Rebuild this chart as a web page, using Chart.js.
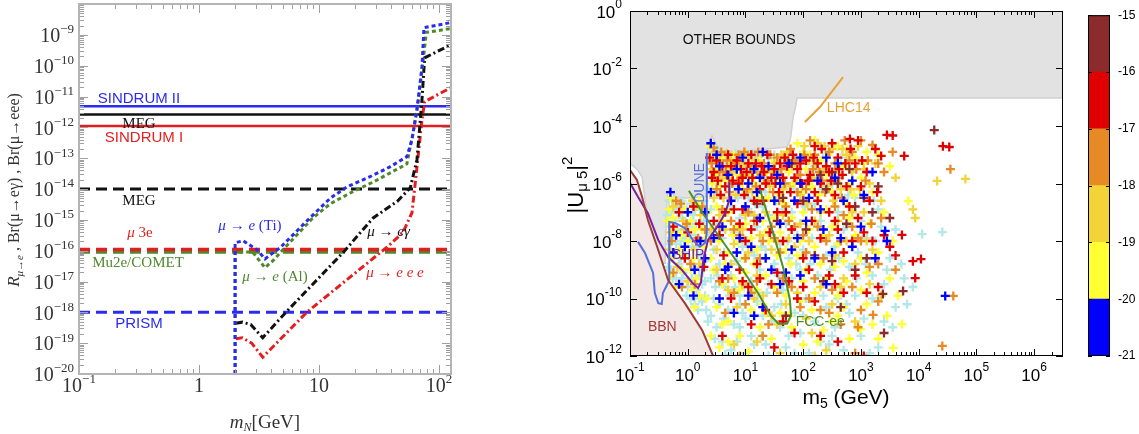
<!DOCTYPE html>
<html>
<head>
<meta charset="utf-8">
<script src="https://cdn.jsdelivr.net/npm/chart.js@4.4.1/dist/chart.umd.min.js"></script>
<style>
  body { margin: 0; background: #fff; width: 1139px; height: 434px; overflow: hidden; position: relative; }
  canvas { position: absolute; top: 0; }
  #lfv { left: 0; width: 470px; height: 434px; }
  #hnl { left: 540px; width: 540px; height: 434px; }
  #cbar { left: 1080px; width: 59px; height: 434px; }
</style>
</head>
<body>
<canvas id="lfv" width="470" height="434"></canvas>
<canvas id="hnl" width="540" height="434"></canvas>
<canvas id="cbar" width="59" height="434"></canvas>
<script>
// ---------------- left panel: cLFV rates vs m_N ----------------
var leftXTicks = [0.1, 1, 10, 100];
var leftYTicks = [1e-9, 1e-10, 1e-11, 1e-12, 1e-13, 1e-14, 1e-15, 1e-16, 1e-17, 1e-18, 1e-19, 1e-20];

var limitNames  = ['SINDRUM II', 'MEG', 'SINDRUM I', 'MEG future', 'Mu3e', 'Mu2e/COMET', 'PRISM'];
var limitValues = [4.8e-12, 2.6e-12, 1.1e-12, 1.0e-14, 1.1e-16, 9.0e-17, 1.0e-18];

var tiMass  = [2.0, 2.0, 2.33, 3.04, 3.55, 4.14, 4.73, 8.1, 12.4, 17.1, 26.6, 39, 54, 59.6, 65.6, 72.2, 75, 126];
var tiRate  = [1e-20, 1.8e-16, 2.1e-16, 1.07e-16, 5.4e-17, 8.5e-17, 1.23e-16, 1.0e-15, 5.0e-15, 1.17e-14, 2.5e-14, 5.2e-14, 1.12e-13, 4e-13, 3.7e-12, 9.3e-11, 1.7e-9, 2.5e-9];
var alMass  = [2.0, 2.0, 2.8, 3.55, 4.2, 5.0, 8.9, 12.4, 18.3, 28.5, 54, 60.8, 67.4, 74, 78.5, 126];
var alRate  = [1e-20, 9e-17, 9e-17, 2.8e-17, 5e-17, 1.07e-16, 1.15e-15, 3.3e-15, 7.5e-15, 1.7e-14, 6.5e-14, 6.6e-13, 7.9e-12, 1.6e-10, 1.2e-9, 1.6e-9];
var egMass  = [2.03, 2.3, 2.7, 3.4, 5.3, 15.8, 28.3, 45, 57.7, 65.6, 72.2, 76, 126];
var egRate  = [4.4e-19, 4.8e-19, 4e-19, 1.5e-19, 1e-18, 8.5e-17, 1.15e-15, 4e-15, 1.1e-14, 8.9e-14, 8e-12, 1.8e-10, 4.8e-10];
var eeeMass = [2.03, 2.3, 2.75, 3.4, 7.9, 36.9, 50, 59.6, 65.6, 72.2, 76, 126];
var eeeRate = [1.4e-19, 1.5e-19, 1e-19, 3.5e-20, 1e-18, 1.3e-16, 3.8e-16, 1.7e-15, 5.2e-14, 1.8e-12, 6.8e-12, 1.95e-11];

// ---------------- right panel: |U_mu5|^2 vs m5 (log10 values) ----------------
var rightXTicks = [0.1, 1, 10, 100, 1e3, 1e4, 1e5, 1e6];
var rightYTicks = [1, 1e-2, 1e-4, 1e-6, 1e-8, 1e-10, 1e-12];
var cbarEdges = [-21, -20, -19, -18, -17, -16, -15];

var otherBounds = [[-1,0],[6.5,0],[6.5,-3.03],[1.894,-3.03],[1.86,-3.4],[1.825,-3.69],[1.79,-4.3],[1.773,-4.49],[1.72,-4.73],[1.25,-4.83],[0.854,-4.9],[0.6,-4.85],[0.508,-4.73],[0.421,-4.35],[0.37,-4.55],[0.34,-5.0],[0.334,-6.45],[0.0,-6.5],[-0.22,-6.5],[-0.307,-6.16],[-0.35,-6.4],[-0.37,-7.0],[-0.39,-8.77],[-0.51,-8.77],[-0.58,-8.3],[-0.65,-7.72],[-0.74,-6.57],[-0.79,-5.77],[-0.88,-5.5],[-1,-5.3]];
var bbnLine  = [[-1,-5.53],[-0.88,-5.88],[-0.79,-6.47],[-0.69,-7.27],[-0.53,-8.2],[-0.34,-9.36],[-0.05,-10.16],[0.25,-11.1],[0.44,-12]];
var duneLine = [[-0.86,-8.03],[-0.74,-8.42],[-0.6,-9.11],[-0.57,-9.81],[-0.51,-10.16],[-0.45,-10.19],[-0.43,-9.81],[-0.36,-9.53],[-0.32,-9.36],[-0.32,-7.34],[-0.22,-7.37],[-0.05,-7.55],[0.09,-7.97],[0.21,-8.2],[0.3,-8.07],[0.33,-7.72],[0.33,-4.94]];
var shipLine = [[-1,-5.98],[-0.86,-6.47],[-0.69,-7.03],[-0.51,-7.97],[-0.34,-8.56],[-0.1,-9.01],[0.07,-9.43],[0.18,-9.64],[0.23,-9.43],[0.27,-8.66],[0.35,-7.97],[0.51,-7.51],[0.65,-7.03],[0.72,-6.57],[0.72,-5.95]];
var fccLine  = [[0.02,-6.25],[0.25,-7.0],[0.6,-8.0],[0.95,-9.0],[1.23,-9.85],[1.44,-10.6],[1.57,-10.88],[1.72,-10.88],[1.79,-10.6],[1.77,-10.05],[1.65,-8.9],[1.48,-7.72],[1.25,-6.2]];
var lhcLine  = [[2.03,-3.86],[2.29,-3.34],[2.69,-2.3]];

// scan points, grouped by colour band of the bar (log10 m5, log10 |U|^2)
var ptsLow = [[-0.33,-6.6],[-0.3,-7.0],[-0.32,-7.5],[-0.28,-7.9],[-0.3,-8.3],[-0.25,-8.6],[-0.3,-9.0],[-0.2,-9.3],[-0.15,-6.8],[-0.1,-7.2],[-0.18,-7.6],[-0.12,-8.0],[-0.05,-8.4],[-0.15,-8.8],[-0.08,-9.1],[0.0,-9.6],[0.05,-6.7],[0.1,-7.1],[0.02,-7.5],[0.12,-7.8],[0.18,-8.5],[0.1,-8.9],[0.2,-9.2],[0.15,-9.7],[0.25,-10.1],[0.22,-6.9],[0.28,-7.3],[0.3,-8.7],[0.25,-9.5],[-0.22,-7.3],[-0.05,-7.9],[0.08,-8.2],[-0.2,-8.1],[0.05,-10.0],[0.18,-10.4],
  [0.4,-5.2],[0.45,-5.9],[0.55,-6.4],[0.4,-6.9],[0.5,-7.4],[0.6,-7.9],[0.45,-8.3],[0.55,-8.8],[0.4,-9.3],[0.65,-9.6],[0.7,-5.5],[0.8,-6.1],[0.75,-6.8],[0.9,-7.2],[0.8,-7.7],[0.95,-8.2],[0.85,-8.7],[0.75,-9.2],[0.9,-9.9],[1.0,-5.3],[1.05,-6.5],[1.1,-7.0],[1.2,-7.5],[1.05,-8.0],[1.15,-8.5],[1.25,-9.0],[1.1,-9.4],[1.3,-5.8],[1.35,-6.3],[1.4,-7.1],[1.45,-7.8],[1.35,-8.3],[1.5,-8.8],[1.4,-9.5],[1.6,-5.5],[1.65,-6.9],[1.7,-7.4],[1.6,-8.1],[1.75,-8.6],[1.8,-9.3],[1.85,-6.2],[1.9,-7.8],[2.0,-8.3],[1.95,-9.0],
  [2.1,-5.6],[2.2,-6.7],[2.3,-7.3],[2.15,-7.9],[2.4,-8.5],[2.25,-9.2],[2.5,-6.0],[2.6,-7.0],[2.7,-7.6],[2.55,-8.2],[2.8,-8.9],[2.65,-9.6],[2.9,-6.5],[3.0,-7.3],[3.1,-7.9],[2.95,-8.4],[3.2,-9.2],[3.3,-6.9],[3.35,-7.5],[3.25,-8.0],[3.5,-8.6],[3.4,-9.5],[3.6,-7.6],[3.7,-8.8],[4.06,-7.76],[4.41,-7.69],[3.9,-9.6],[3.6,-10.3],[3.2,-10.0],[2.9,-9.9],
  [0.4,-10.6],[0.5,-11.0],[0.6,-11.5],[0.55,-10.2],[0.7,-10.4],[0.8,-10.9],[0.75,-11.8],[0.9,-10.2],[1.0,-10.7],[1.1,-11.3],[1.0,-11.9],[1.2,-10.1],[1.3,-10.6],[1.35,-11.6],[1.5,-10.3],[1.6,-11.0],[1.7,-11.7],[1.85,-10.5],[1.95,-11.2],[2.05,-10.0],[2.2,-10.8],[2.3,-11.5],[2.4,-10.3],[2.55,-11.0],[2.7,-11.8],[2.8,-10.5],[3.0,-11.3],[3.15,-11.9],[3.4,-10.8],[2.1,-11.9],[1.4,-12.0],[0.65,-11.95],
  [0.5,-4.8],[0.9,-5.0],[1.2,-5.1],[1.5,-5.0],[0.7,-6.0],[1.3,-6.8],[2.0,-5.2],[2.4,-5.0],[1.8,-7.0],[0.35,-6.2],[-0.1,-6.6],[0.3,-9.9],
  [-0.34,-8.9],[-0.26,-9.3],[-0.22,-6.9],[-0.08,-6.8],[0.03,-8.6],[0.14,-7.4],[0.27,-9.0],[0.12,-10.2],[-0.02,-9.9],[0.32,-10.4],
  [0.37,-7.8],[0.48,-9.6],[0.63,-8.4],[0.72,-9.9],[0.87,-6.5],[0.97,-9.6],[1.17,-6.7],[1.27,-8.2],[1.37,-9.8],[1.53,-6.6],[1.57,-9.2],[1.73,-8.0],[1.88,-8.8],[2.03,-6.8],[2.12,-8.8],[2.33,-6.2],[2.47,-9.0],[2.62,-8.6],[2.78,-6.4],[2.92,-9.3],[3.08,-8.8],[3.22,-6.6],[3.45,-9.0],[3.75,-9.3],[2.35,-9.9],[1.62,-10.2],[1.28,-11.3],[0.85,-11.5],[2.75,-10.2],[3.55,-11.0],[0.47,-11.4],[1.85,-11.9],[2.5,-11.3],[0.95,-10.5],
  [0.43,-4.9],[0.62,-5.3],[0.82,-4.95],[1.12,-4.95],[1.4,-5.1],[1.75,-5.0],[2.2,-5.4],[2.65,-5.1],
  [-0.35,-7.1],[-0.33,-8.1],[-0.27,-6.6],[-0.18,-7.0],[-0.22,-8.4],[-0.12,-8.6],[-0.02,-8.0],[-0.1,-9.3],[0.03,-7.9],[0.07,-9.3],[0.17,-8.2],[0.23,-8.5],[0.13,-6.9],[0.28,-6.6],[0.3,-9.4],[0.2,-10.0],[0.35,-10.8],[0.45,-10.0],[0.62,-10.7],[0.9,-11.0],[1.15,-11.6],[1.45,-10.8],[1.75,-11.3],[2.0,-10.6],[2.45,-11.6],[2.6,-10.0],[3.05,-10.7],[3.3,-11.7],[3.8,-10.2],[0.52,-9.2],[0.82,-9.6],[1.2,-9.8],[1.65,-9.7]];
var pts20 = [[-0.3,-6.3],[-0.2,-7.8],[-0.05,-8.2],[0.12,-9.0],[0.1,-9.9],[-0.15,-9.5],[0.3,-7.0],[0.0,-7.0],[0.22,-8.0],
  [0.4,-4.6],[0.4,-6.3],[0.55,-5.4],[0.7,-5.7],[0.75,-6.6],[0.88,-6.2],[0.95,-5.1],[1.05,-6.0],[1.15,-5.5],[1.25,-5.8],[1.3,-4.9],[1.4,-5.4],[1.5,-6.6],[1.6,-6.0],[1.75,-5.3],[1.85,-6.6],[1.95,-5.1],[2.1,-6.5],[2.25,-5.9],[2.4,-5.1],[2.55,-5.8],[2.7,-6.6],[2.85,-5.9],[3.05,-6.4],[3.2,-5.6],
  [0.45,-7.9],[0.6,-7.5],[0.7,-8.9],[0.85,-8.4],[1.0,-6.8],[1.1,-8.2],[1.25,-7.2],[1.35,-8.6],[1.45,-9.0],[1.6,-7.4],[1.7,-9.1],[1.9,-7.9],[2.05,-7.3],[2.2,-8.6],[2.35,-7.6],[2.5,-8.4],[2.65,-7.9],[2.85,-8.2],[3.0,-7.5],[3.42,-7.65],[3.45,-8.0],[3.25,-8.6],[4.46,-9.91],
  [0.55,-10.0],[0.8,-10.5],[1.05,-9.9],[1.3,-10.3],[1.6,-9.5],[1.95,-9.2],[0.65,-9.0],
  [0.5,-5.0],[0.85,-5.5],[1.2,-6.3],[1.55,-5.7],[1.95,-6.0],[2.3,-6.9],[2.6,-5.3],[0.3,-8.6],[-0.25,-8.4],[0.9,-7.9],[1.8,-8.3],[2.4,-9.5],[1.15,-10.6]];
var pts19 = [[-0.3,-6.5],[-0.25,-7.2],[-0.2,-7.7],[-0.15,-8.3],[-0.28,-8.6],[-0.1,-9.0],[-0.05,-6.9],[0.05,-7.3],[0.0,-8.0],[0.1,-8.6],[0.15,-9.3],[0.2,-6.6],[0.25,-7.6],[0.28,-8.2],[0.2,-9.9],[-0.3,-9.2],[0.08,-9.7],
  [0.38,-4.7],[0.45,-5.0],[0.5,-5.5],[0.42,-6.0],[0.6,-5.1],[0.7,-5.4],[0.65,-5.9],[0.8,-5.0],[0.85,-5.7],[0.95,-6.2],[1.0,-4.95],[1.1,-5.5],[1.15,-6.0],[1.25,-5.2],[1.3,-5.9],[1.4,-6.5],[1.45,-5.4],[1.55,-5.9],[1.6,-6.4],[1.7,-5.1],[1.75,-5.6],[1.85,-6.0],[1.9,-4.6],[2.0,-4.9],[2.05,-5.5],[2.15,-6.1],[2.2,-4.5],[2.3,-5.2],[2.4,-5.7],[2.5,-6.3],[2.6,-4.7],[2.7,-5.4],[2.8,-6.0],[2.9,-5.1],[3.0,-5.8],[3.1,-4.9],[3.2,-6.3],[3.82,-6.61],[3.5,-5.4],
  [0.35,-7.0],[0.5,-6.8],[0.6,-7.3],[0.7,-7.0],[0.85,-7.5],[0.55,-8.0],[0.7,-8.4],[0.9,-8.0],[1.0,-7.4],[1.1,-7.9],[1.2,-8.3],[1.3,-7.3],[1.4,-8.0],[1.5,-7.2],[1.6,-7.7],[1.7,-8.3],[1.8,-7.2],[1.9,-8.5],[2.0,-7.0],[2.1,-7.6],[2.2,-8.2],[2.3,-8.8],[2.4,-6.9],[2.5,-7.5],[2.6,-8.1],[2.7,-8.7],[2.8,-7.2],[2.9,-7.8],[3.0,-8.6],[3.1,-9.1],[3.3,-8.4],[3.5,-9.3],[3.55,-8.0],[3.64,-9.9],
  [0.45,-9.0],[0.6,-9.5],[0.8,-9.3],[1.0,-9.1],[1.2,-9.7],[1.35,-9.2],[1.5,-9.6],[1.7,-9.9],[2.0,-9.4],[2.2,-9.8],[2.4,-9.3],[2.6,-9.9],[2.75,-9.4],[0.5,-10.3],[0.7,-10.8],[0.9,-11.3],[1.1,-10.4],[1.25,-11.0],[1.45,-11.4],[1.6,-10.5],[1.8,-11.0],[2.0,-11.6],[2.15,-10.4],[2.35,-11.1],[2.6,-10.6],[2.8,-11.4],[2.99,-11.06],[3.1,-10.2],[3.56,-11.72],[3.71,-10.89],[3.45,-10.6],[3.3,-11.4],[1.05,-11.85],[0.55,-11.7],
  [-0.35,-7.3],[-0.12,-7.8],[0.05,-9.0],[0.3,-7.9],[0.12,-10.3],[-0.2,-9.6],
  [0.47,-5.7],[0.57,-6.1],[0.77,-5.3],[0.92,-5.1],[1.07,-5.8],[1.22,-6.5],[1.37,-5.6],[1.52,-5.2],[1.67,-6.7],[1.82,-5.4],[1.97,-6.3],[2.12,-5.0],[2.27,-6.4],[2.43,-5.0],[2.57,-5.9],[2.75,-4.8],[2.88,-6.4],[3.05,-5.3],[3.3,-5.0],
  [0.4,-8.6],[0.65,-8.8],[0.78,-7.8],[0.98,-8.6],[1.15,-8.8],[1.35,-7.7],[1.55,-8.5],[1.78,-8.8],[1.95,-8.0],[2.35,-7.8],[2.55,-8.9],[2.75,-6.7],[3.15,-7.4],[3.4,-7.0],
  [0.9,-9.7],[1.3,-10.2],[1.75,-10.6],[2.05,-9.0],[2.5,-10.8],[3.0,-9.7],[0.6,-10.9],
  [-0.32,-6.9],[-0.08,-8.5],[0.12,-7.6],[0.32,-10.0],[0.4,-11.3],[0.7,-11.5],[1.35,-10.5],[1.95,-10.1],[2.25,-11.5],[2.7,-10.3],[3.2,-10.9]];
var pts18 = [[-0.25,-6.8],[-0.18,-8.9],[-0.05,-7.6],[0.1,-8.3],[0.22,-7.1],[0.0,-9.4],[-0.3,-7.7],[0.15,-6.8],
  [0.4,-5.5],[0.48,-4.9],[0.55,-5.2],[0.6,-5.8],[0.68,-4.95],[0.75,-5.2],[0.78,-5.6],[0.88,-5.4],[0.9,-6.0],[1.0,-5.7],[1.05,-5.1],[1.12,-6.3],[1.2,-5.6],[1.28,-4.95],[1.35,-5.5],[1.42,-6.1],[1.5,-5.3],[1.58,-5.7],[1.65,-6.2],[1.72,-4.9],[1.8,-5.4],[1.88,-5.9],[1.95,-6.4],[2.02,-4.7],[2.1,-5.2],[2.18,-5.8],[2.25,-4.6],[2.35,-5.5],[2.42,-6.1],[2.5,-4.8],[2.58,-5.5],[2.65,-6.2],[2.75,-5.0],[2.85,-5.6],[2.95,-4.7],[3.05,-5.5],[3.15,-6.0],[3.25,-5.3],[4.32,-5.91],[4.81,-5.84],[3.6,-5.8],[3.9,-6.9],
  [0.4,-7.6],[0.55,-7.1],[0.65,-7.6],[0.8,-8.1],[0.95,-7.6],[1.05,-8.4],[1.15,-7.1],[1.25,-7.8],[1.35,-7.0],[1.55,-8.0],[1.65,-7.1],[1.75,-7.9],[1.95,-7.4],[2.1,-8.0],[2.3,-7.0],[2.45,-7.8],[2.6,-7.3],[2.75,-8.0],[2.9,-8.8],[3.05,-7.0],[3.2,-8.3],[3.94,-7.2],
  [0.5,-9.0],[0.7,-9.7],[0.95,-9.5],[1.15,-10.0],[1.3,-9.9],[1.45,-10.6],[1.7,-10.2],[1.9,-9.8],[2.05,-10.7],[2.3,-9.6],[2.5,-10.2],[2.7,-9.3],[2.9,-10.8],[3.15,-9.5],[0.8,-11.6],[1.2,-11.5],[2.4,-11.8],[2.2,-12.0],[1.6,-11.9],
  [-0.32,-8.3],[-0.08,-7.3],[0.2,-8.8],[0.08,-6.6],
  [0.45,-6.5],[0.62,-6.5],[0.72,-5.8],[0.83,-6.4],[0.97,-5.3],[1.17,-5.2],[1.32,-6.6],[1.47,-5.6],[1.62,-5.0],[1.77,-6.1],[1.92,-5.2],[2.07,-6.7],[2.22,-5.3],[2.37,-4.7],[2.52,-6.6],[2.68,-4.8],[2.82,-6.2],[2.98,-6.2],[3.35,-6.6],
  [0.5,-8.3],[0.75,-8.8],[1.0,-7.1],[1.2,-9.2],[1.45,-8.3],[1.85,-8.2],[2.2,-7.3],[2.55,-8.5],[2.85,-7.0],[3.1,-8.0],
  [0.85,-10.3],[1.55,-10.9],[2.15,-11.2],[2.65,-9.6],[3.35,-9.9]];
var pts17 = [[-0.2,-6.6],[-0.28,-8.0],[0.05,-8.8],[0.18,-7.9],[-0.1,-9.6],[0.25,-6.8],[-0.12,-6.7],
  [0.42,-5.3],[0.5,-6.2],[0.58,-4.9],[0.66,-5.6],[0.72,-6.3],[0.82,-5.3],[0.92,-5.8],[0.98,-4.9],[1.08,-5.4],[1.18,-6.1],[1.22,-4.9],[1.32,-5.3],[1.38,-5.9],[1.48,-6.3],[1.55,-5.1],[1.62,-5.5],[1.68,-6.0],[1.78,-4.8],[1.85,-5.2],[1.95,-5.7],[2.05,-6.2],[2.12,-4.5],[2.2,-5.0],[2.28,-5.6],[2.38,-6.3],[2.45,-4.9],[2.55,-5.3],[2.62,-5.8],[2.72,-4.5],[2.8,-5.2],[2.92,-5.5],[3.0,-4.5],[3.2,-4.66],[3.12,-5.2],[3.4,-5.6],[4.55,-5.5],[3.55,-4.9],
  [0.4,-8.0],[0.6,-6.9],[0.75,-7.3],[0.9,-7.8],[1.0,-8.6],[1.15,-7.3],[1.3,-8.0],[1.45,-7.5],[1.6,-8.4],[1.7,-6.8],[1.85,-7.5],[2.0,-7.8],[2.15,-6.9],[2.25,-7.5],[2.4,-8.0],[2.55,-6.8],[2.7,-7.1],[2.85,-7.5],[3.0,-8.0],[3.18,-7.4],[3.3,-8.8],[3.35,-7.2],
  [0.55,-9.4],[0.8,-9.8],[0.65,-10.5],[1.0,-10.2],[1.2,-9.4],[1.4,-10.9],[1.55,-9.8],[1.8,-9.6],[1.95,-10.3],[2.2,-9.3],[2.3,-10.4],[2.5,-9.7],[2.65,-10.9],[2.85,-9.6],[3.0,-10.4],[3.21,-10.57],[3.6,-9.0],[4.6,-9.91],[4.41,-11.65],[3.3,-10.1],[1.3,-11.3],[2.9,-11.9],[0.9,-12.0],
  [-0.25,-9.1],[0.12,-9.5],[-0.02,-7.4],[0.3,-7.6],
  [0.45,-4.75],[0.55,-5.6],[0.68,-5.2],[0.77,-6.0],[0.88,-5.0],[1.03,-6.2],[1.13,-5.6],[1.28,-5.7],[1.43,-5.0],[1.58,-6.6],[1.73,-5.2],[1.9,-6.3],[2.02,-5.0],[2.17,-5.5],[2.33,-5.9],[2.5,-5.9],[2.67,-6.5],[2.85,-4.9],[3.08,-5.9],[3.3,-5.3],
  [0.55,-7.5],[0.8,-7.6],[1.05,-7.0],[1.25,-8.6],[1.5,-7.9],[1.75,-7.3],[2.05,-8.4],[2.35,-8.6],[2.65,-8.0],[2.95,-7.9],[3.15,-8.9],
  [0.7,-9.3],[1.1,-9.8],[1.65,-9.3],[2.1,-10.0],[2.45,-10.5],[2.95,-11.0]];
var pts16 = [[-0.15,-7.0],[0.1,-6.8],[0.2,-7.4],[0.28,-8.9],[-0.05,-8.6],
  [0.38,-5.1],[0.45,-5.6],[0.52,-5.9],[0.6,-5.4],[0.65,-6.1],[0.7,-5.0],[0.78,-5.9],[0.85,-5.2],[0.92,-5.5],[0.98,-6.4],[1.02,-5.6],[1.1,-5.0],[1.12,-5.8],[1.18,-5.3],[1.25,-6.2],[1.32,-5.6],[1.38,-5.0],[1.45,-5.8],[1.52,-6.0],[1.6,-5.3],[1.65,-5.8],[1.72,-5.4],[1.78,-6.3],[1.82,-5.0],[1.9,-5.5],[1.98,-6.0],[2.05,-5.2],[2.12,-5.7],[2.2,-6.3],[2.25,-5.3],[2.32,-4.8],[2.4,-5.4],[2.48,-5.9],[2.55,-6.4],[2.6,-5.1],[2.68,-5.7],[2.75,-6.1],[2.82,-4.8],[2.81,-4.45],[2.95,-4.5],[3.02,-5.2],[3.28,-6.3],[3.35,-5.04],[3.45,-4.31],[3.55,-4.33],[3.75,-5.04],[4.42,-4.7],[4.53,-4.73],[3.15,-6.6],[3.0,-6.1],
  [0.45,-7.3],[0.55,-7.8],[0.62,-8.5],[0.8,-6.9],[0.9,-7.4],[1.0,-8.0],[1.1,-7.6],[1.2,-8.8],[1.3,-6.6],[1.42,-7.7],[1.55,-7.0],[1.65,-8.0],[1.8,-7.6],[1.9,-6.7],[2.0,-8.6],[2.15,-7.3],[2.3,-7.9],[2.45,-7.0],[2.6,-7.6],[2.7,-8.4],[2.8,-6.8],[2.95,-7.2],[3.05,-7.7],[3.2,-8.0],[3.4,-7.8],[3.5,-8.2],[3.71,-7.79],[3.9,-8.7],[4.04,-8.63],[3.94,-9.29],[3.6,-8.5],
  [0.6,-9.3],[0.75,-10.0],[0.9,-9.0],[1.05,-9.6],[1.25,-9.3],[1.35,-10.4],[1.55,-9.1],[1.75,-9.4],[1.9,-10.0],[2.1,-9.0],[2.2,-10.1],[2.45,-9.2],[2.7,-9.8],[2.9,-9.2],[3.1,-9.8],[3.3,-9.6],[1.5,-11.7],[2.3,-11.3],[1.85,-11.2],[3.05,-12.0],[1.1,-10.9],[0.6,-11.3],[2.6,-11.5],
  [0.0,-7.7],[-0.25,-7.5],[0.15,-8.0],
  [0.42,-5.8],[0.5,-5.2],[0.57,-6.4],[0.68,-5.7],[0.75,-5.4],[0.88,-6.0],[0.95,-5.8],[1.05,-5.3],[1.15,-6.6],[1.28,-5.4],[1.35,-6.0],[1.5,-5.5],[1.58,-6.3],[1.68,-5.1],[1.85,-5.8],[1.95,-5.3],[2.08,-5.9],[2.18,-5.1],[2.3,-6.0],[2.45,-5.6],[2.62,-5.5],[2.73,-5.3],[2.9,-5.3],[3.1,-5.6],[2.5,-4.6],[2.2,-4.7],[3.25,-4.8],
  [0.65,-7.0],[0.95,-6.9],[1.2,-7.3],[1.7,-7.0],[2.25,-6.6],[2.55,-7.3],[2.85,-8.0],
  [0.95,-9.4],[1.45,-9.5],[2.0,-9.6],[2.55,-9.5],[1.65,-10.8]];
var pts15 = [[1.8,-5.3],[2.1,-5.9],[2.4,-6.2],[2.6,-6.0],[2.9,-6.8],[3.2,-7.0],[2.75,-7.4],[4.27,-4.14],[3.73,-9.74],[3.38,-9.84],[3.5,-7.2],[2.0,-6.6],[1.55,-7.3],[2.2,-8.5],[2.5,-8.7],[3.1,-8.6],[2.35,-9.4],[2.65,-10.3],[3.4,-11.2],[1.7,-10.6],[3.3,-6.1],[2.5,-5.6],[1.2,-6.7],
  [2.3,-5.7],[2.8,-5.5],[2.05,-7.6],[1.65,-6.5],[2.9,-9.0],[3.05,-6.5]];

// ---------------- helpers ----------------
var SERIF = '"Liberation Serif", "DejaVu Serif", serif';
var SANS = '"Liberation Sans", "DejaVu Sans", sans-serif';
Chart.defaults.font.family = SANS;

function toXY(list) {
  return list.map(function (p) { return { x: Math.pow(10, p[0]), y: Math.pow(10, p[1]) }; });
}
function zipXY(xs, ys) {
  return xs.map(function (x, i) { return { x: x, y: ys[i] }; });
}
function logTicks(min, max) {
  var out = [];
  for (var d = Math.floor(Math.log10(min)); d <= Math.ceil(Math.log10(max)); d++) {
    for (var k = 1; k < 10; k++) {
      var v = k * Math.pow(10, d);
      if (v >= min * 0.9999 && v <= max * 1.0001) out.push({ v: v, major: k === 1 });
    }
  }
  return out;
}
function drawRich(ctx, parts, x, y, align, color) {
  var w = 0;
  parts.forEach(function (p) { ctx.font = p.f; w += ctx.measureText(p.t).width; });
  var x0 = align === 'center' ? x - w / 2 : (align === 'right' ? x - w : x);
  ctx.fillStyle = color; ctx.textBaseline = 'middle'; ctx.textAlign = 'left';
  parts.forEach(function (p) {
    ctx.font = p.f;
    ctx.fillText(p.t, x0, y + (p.dy || 0));
    x0 += ctx.measureText(p.t).width;
  });
}
function powParts(v, base, exp, fam, minus, rise, plain) {
  var e = Math.round(Math.log10(v));
  if (plain && e === 0) return [{ t: '1', f: base + 'px ' + fam }];
  if (plain && e === 1) return [{ t: '10', f: base + 'px ' + fam }];
  return [{ t: '10', f: base + 'px ' + fam }, { t: (e < 0 ? minus : '') + Math.abs(e), f: exp + 'px ' + fam, dy: -rise }];
}

// ---------------- left chart ----------------
var limitStyle = [
  { c: '#2b2bf0', dash: [], w: 2.5 }, { c: '#111111', dash: [], w: 2.5 }, { c: '#e41e1e', dash: [], w: 2.5 },
  { c: '#111111', dash: [11, 6], w: 3 }, { c: '#e41e1e', dash: [11, 6], w: 3.5 }, { c: '#4e8a2c', dash: [11, 6], w: 3.5 },
  { c: '#2b2bf0', dash: [11, 6], w: 3 }
];
var leftSets = [];
[[tiMass, tiRate, '#2b2bf0', [4, 3], 'mu-e Ti'], [alMass, alRate, '#4e8a2c', [4, 3], 'mu-e Al'],
 [egMass, egRate, '#111111', [7, 3, 2, 3], 'mu-e gamma'], [eeeMass, eeeRate, '#e41e1e', [7, 3, 2, 3], 'mu-eee']].forEach(function (c) {
  leftSets.push({ label: c[4], data: zipXY(c[0], c[1]), borderColor: c[2], borderDash: c[3], borderWidth: 3,
    showLine: true, pointRadius: 0, order: 1 });
});
limitValues.forEach(function (v, i) {
  leftSets.push({ label: limitNames[i], data: [{ x: 0.1, y: v }, { x: 126, y: v }], borderColor: limitStyle[i].c,
    borderDash: limitStyle[i].dash, borderWidth: limitStyle[i].w, showLine: true, pointRadius: 0, order: i === 4 ? 2 : 3 });
});

var S15 = '15px ' + SANS, R15 = '15px ' + SERIF, I15 = 'italic 15px ' + SERIF;
var leftNotes = [
  { m: 0.316, r: 8.5e-12, c: '#2b2bf0', parts: [{ t: 'SINDRUM II', f: S15 }] },
  { m: 0.316, r: 1.3e-12, c: '#111', parts: [{ t: 'MEG', f: R15 }] },
  { m: 0.348, r: 4.6e-13, c: '#e41e1e', parts: [{ t: 'SINDRUM I', f: S15 }] },
  { m: 0.316, r: 4.2e-15, c: '#111', parts: [{ t: 'MEG', f: R15 }] },
  { m: 0.322, r: 3.8e-16, c: '#e41e1e', parts: [{ t: 'μ', f: I15 }, { t: ' 3e', f: R15 }] },
  { m: 0.31, r: 4e-17, c: '#4e8a2c', parts: [{ t: 'Mu2e/COMET', f: R15 }] },
  { m: 0.316, r: 4.1e-19, c: '#2b2bf0', parts: [{ t: 'PRISM', f: S15 }] },
  { m: 2.66, r: 6.3e-16, c: '#2b2bf0', parts: [{ t: 'μ → e', f: I15 }, { t: ' (Ti)', f: R15 }] },
  { m: 4.3, r: 1.4e-17, c: '#4e8a2c', parts: [{ t: 'μ → e', f: I15 }, { t: ' (Al)', f: R15 }] },
  { m: 38, r: 4.1e-16, c: '#111', parts: [{ t: 'μ → eγ', f: I15 }] },
  { m: 43, r: 1.9e-17, c: '#e41e1e', parts: [{ t: 'μ → e e e', f: I15 }] }
];

var leftDecor = {
  id: 'leftDecor',
  afterDraw: function (chart) {
    var ctx = chart.ctx, a = chart.chartArea, sx = chart.scales.x, sy = chart.scales.y;
    ctx.save();
    ctx.strokeStyle = '#a0a0a0'; ctx.lineWidth = 1;
    ctx.beginPath();
    logTicks(sx.min, sx.max).forEach(function (t) {
      var p = Math.round(sx.getPixelForValue(t.v)) + 0.5, L = t.major ? 9 : 5;
      ctx.moveTo(p, a.bottom); ctx.lineTo(p, a.bottom - L);
      ctx.moveTo(p, a.top); ctx.lineTo(p, a.top + L);
    });
    logTicks(sy.min, sy.max).forEach(function (t) {
      var p = Math.round(sy.getPixelForValue(t.v)) + 0.5, L = t.major ? 9 : 5;
      ctx.moveTo(a.left, p); ctx.lineTo(a.left + L, p);
      ctx.moveTo(a.right, p); ctx.lineTo(a.right - L, p);
    });
    ctx.stroke();
    ctx.strokeStyle = '#b4b4b4'; ctx.lineWidth = 2;
    ctx.strokeRect(a.left, a.top, a.right - a.left, a.bottom - a.top);

    leftYTicks.forEach(function (v) {
      drawRich(ctx, powParts(v, 20, 13, SERIF, '−', 7), a.left - 5, sy.getPixelForValue(v) + 2, 'right', '#333');
    });
    leftXTicks.forEach(function (v) {
      drawRich(ctx, powParts(v, 20, 13, SERIF, '−', 7, true), sx.getPixelForValue(v), a.bottom + 13, 'center', '#333');
    });
    leftNotes.forEach(function (n) {
      drawRich(ctx, n.parts, sx.getPixelForValue(n.m), sy.getPixelForValue(n.r), 'center', n.c);
    });
    // axis titles
    drawRich(ctx, [{ t: 'm', f: 'italic 19px ' + SERIF }, { t: 'N', f: 'italic 12px ' + SERIF, dy: 5 },
      { t: '[GeV]', f: '19px ' + SERIF }], 265, 423, 'center', '#333');
    ctx.translate(15, 190); ctx.rotate(-Math.PI / 2);
    drawRich(ctx, [{ t: 'R', f: 'italic 17px ' + SERIF }, { t: 'μ→e', f: 'italic 11px ' + SERIF, dy: 5 },
      { t: ' , Br(μ→eγ) , Br(μ→eee)', f: '16px ' + SERIF }], 0, 0, 'center', '#333');
    ctx.restore();
  }
};

new Chart(document.getElementById('lfv'), {
  type: 'scatter',
  data: { datasets: leftSets },
  options: {
    responsive: false, animation: false, events: [],
    layout: { padding: { top: 4, right: 19 } },
    plugins: { legend: { display: false }, tooltip: { enabled: false } },
    elements: { line: { tension: 0 } },
    scales: {
      x: { type: 'logarithmic', min: 0.1, max: 126, ticks: { display: false }, grid: { display: false }, border: { display: false },
        afterFit: function (s) { s.height = 60; } },
      y: { type: 'logarithmic', min: 1e-20, max: 1e-8, ticks: { display: false }, grid: { display: false }, border: { display: false },
        afterFit: function (s) { s.width = 79; } }
    }
  },
  plugins: [leftDecor]
});

// ---------------- right chart ----------------
var bandColors = ['#0000ff', '#ffff33', '#f2d338', '#e68a25', '#e00000', '#8b2b2b'];
var pointGroups = [[ptsLow, '#b5e7e7'], [pts19, bandColors[1]], [pts18, bandColors[2]], [pts17, bandColors[3]],
  [pts15, bandColors[5]], [pts16, bandColors[4]], [pts20, bandColors[0]]];

var rightSets = [
  { label: 'other bounds', data: toXY(otherBounds), showLine: true, fill: 'shape', backgroundColor: '#e2e2e2',
    borderColor: '#d0d0d0', borderWidth: 1.5, pointRadius: 0, order: 100 },
  { label: 'BBN region', data: toXY(bbnLine.concat([[-1, -12]])), showLine: true, fill: 'shape', backgroundColor: '#f3e8e6',
    borderWidth: 0, pointRadius: 0, order: 99 }
];
pointGroups.forEach(function (g, i) {
  rightSets.push({ label: 'scan ' + i, data: toXY(g[0]), showLine: false, pointStyle: 'cross', pointRadius: 4.5,
    pointBorderWidth: 2.3, pointBorderColor: g[1], pointBackgroundColor: g[1], order: 60 - i });
});
[[bbnLine, '#9c3a33'], [duneLine, '#5570dd'], [shipLine, '#7a1f9e'], [fccLine, '#4f8f2a'], [lhcLine, '#e8a035']].forEach(function (l, i) {
  rightSets.push({ label: 'curve ' + i, data: toXY(l[0]), showLine: true, borderColor: l[1], borderWidth: 2,
    pointRadius: 0, fill: false, order: 10 });
});

var N14 = '14px ' + SANS;
var boundNotes = [
  { t: 'OTHER BOUNDS', a: 0.89, b: -1.01, c: '#111', align: 'center' },
  { t: 'LHC14', a: 2.41, b: -3.37, c: '#e8a035', align: 'left' },
  { t: 'SHIP', a: 0.005, b: -8.49, c: '#7a1f9e', align: 'center' },
  { t: 'FCC-ee', a: 1.87, b: -10.82, c: '#4f8f2a', align: 'left' },
  { t: 'BBN', a: -0.69, b: -10.99, c: '#a03a3a', align: 'left' },
  { t: 'DUNE', a: 0.21, b: -5.98, c: '#5570dd', align: 'center', rot: true }
];

var rightDecor = {
  id: 'rightDecor',
  afterDatasetsDraw: function (chart) {
    var ctx = chart.ctx, sx = chart.scales.x, sy = chart.scales.y;
    ctx.save();
    boundNotes.forEach(function (n) {
      var px = sx.getPixelForValue(Math.pow(10, n.a)), py = sy.getPixelForValue(Math.pow(10, n.b));
      if (n.rot) {
        ctx.save(); ctx.translate(px, py); ctx.rotate(-Math.PI / 2);
        drawRich(ctx, [{ t: n.t, f: N14 }], 0, 0, 'center', n.c);
        ctx.restore();
      } else {
        drawRich(ctx, [{ t: n.t, f: N14 }], px, py, n.align, n.c);
      }
    });
    ctx.restore();
  },
  afterDraw: function (chart) {
    var ctx = chart.ctx, a = chart.chartArea, sx = chart.scales.x, sy = chart.scales.y;
    ctx.save();
    ctx.strokeStyle = '#000'; ctx.lineWidth = 1;
    ctx.strokeRect(a.left + 0.5, a.top + 0.5, a.right - a.left - 1, a.bottom - a.top - 1);
    ctx.beginPath();
    logTicks(sx.min, sx.max).forEach(function (t) {
      var p = Math.round(sx.getPixelForValue(t.v)) + 0.5, L = t.major ? 7 : 4;
      ctx.moveTo(p, a.bottom); ctx.lineTo(p, a.bottom - L);
      ctx.moveTo(p, a.top); ctx.lineTo(p, a.top + L);
    });
    rightYTicks.forEach(function (v) {
      var p = Math.round(sy.getPixelForValue(v)) + 0.5;
      ctx.moveTo(a.left, p); ctx.lineTo(a.left + 7, p);
      ctx.moveTo(a.right, p); ctx.lineTo(a.right - 7, p);
    });
    ctx.stroke();
    rightYTicks.forEach(function (v) {
      drawRich(ctx, powParts(v, 17, 12, SANS, '-', 8), a.left - 8, sy.getPixelForValue(v) + 2, 'right', '#000');
    });
    rightXTicks.forEach(function (v) {
      drawRich(ctx, powParts(v, 17, 12, SANS, '-', 8), sx.getPixelForValue(v), a.bottom + 20, 'center', '#000');
    });
    drawRich(ctx, [{ t: 'm', f: '21px ' + SANS }, { t: '5', f: '14px ' + SANS, dy: 6 }, { t: ' (GeV)', f: '21px ' + SANS }],
      306, 398, 'center', '#000');
    ctx.translate(37, 185); ctx.rotate(-Math.PI / 2);
    drawRich(ctx, [{ t: '|U', f: '22px ' + SANS }, { t: 'μ 5', f: '15px ' + SANS, dy: 6 }, { t: '|', f: '22px ' + SANS },
      { t: '2', f: '15px ' + SANS, dy: -9 }], 0, 0, 'center', '#000');
    ctx.restore();
  }
};

new Chart(document.getElementById('hnl'), {
  type: 'scatter',
  data: { datasets: rightSets },
  options: {
    responsive: false, animation: false, events: [],
    layout: { padding: { top: 11, right: 17 } },
    plugins: { legend: { display: false }, tooltip: { enabled: false } },
    elements: { line: { tension: 0 } },
    scales: {
      x: { type: 'logarithmic', min: 0.1, max: Math.pow(10, 6.5), ticks: { display: false }, grid: { display: false },
        border: { display: false }, afterFit: function (s) { s.height = 78; } },
      y: { type: 'logarithmic', min: 1e-12, max: 1, ticks: { display: false }, grid: { display: false },
        border: { display: false }, afterFit: function (s) { s.width = 90; } }
    }
  },
  plugins: [rightDecor]
});

// ---------------- colour bar ----------------
var cbarFrame = {
  id: 'cbarFrame',
  afterDraw: function (chart) {
    var ctx = chart.ctx, a = chart.chartArea, sy = chart.scales.y;
    ctx.save();
    ctx.strokeStyle = '#000'; ctx.lineWidth = 1;
    ctx.strokeRect(a.left + 0.5, a.top + 0.5, a.right - a.left - 1, a.bottom - a.top - 1);
    ctx.beginPath();
    cbarEdges.forEach(function (v) {
      var p = Math.round(sy.getPixelForValue(v)) + 0.5;
      ctx.moveTo(a.left, p); ctx.lineTo(a.left + 4, p);
      ctx.moveTo(a.right, p); ctx.lineTo(a.right - 4, p);
    });
    ctx.stroke();
    ctx.restore();
  }
};

new Chart(document.getElementById('cbar'), {
  type: 'bar',
  data: {
    labels: ['log'],
    datasets: cbarEdges.slice(0, -1).map(function (lo, i) {
      return { label: String(lo), data: [[lo, cbarEdges[i + 1]]], backgroundColor: bandColors[i], borderWidth: 0,
        grouped: false, barPercentage: 1, categoryPercentage: 1 };
    })
  },
  options: {
    responsive: false, animation: false, events: [],
    layout: { padding: { top: 11, bottom: 78, left: 8 } },
    plugins: { legend: { display: false }, tooltip: { enabled: false } },
    scales: {
      x: { display: false },
      y: { position: 'right', min: -21, max: -15, ticks: { stepSize: 1, color: '#000', padding: 8, font: { size: 12 } },
        grid: { display: false, drawTicks: false }, border: { display: false }, afterFit: function (s) { s.width = 29; } }
    }
  },
  plugins: [cbarFrame]
});
</script>
</body>
</html>
